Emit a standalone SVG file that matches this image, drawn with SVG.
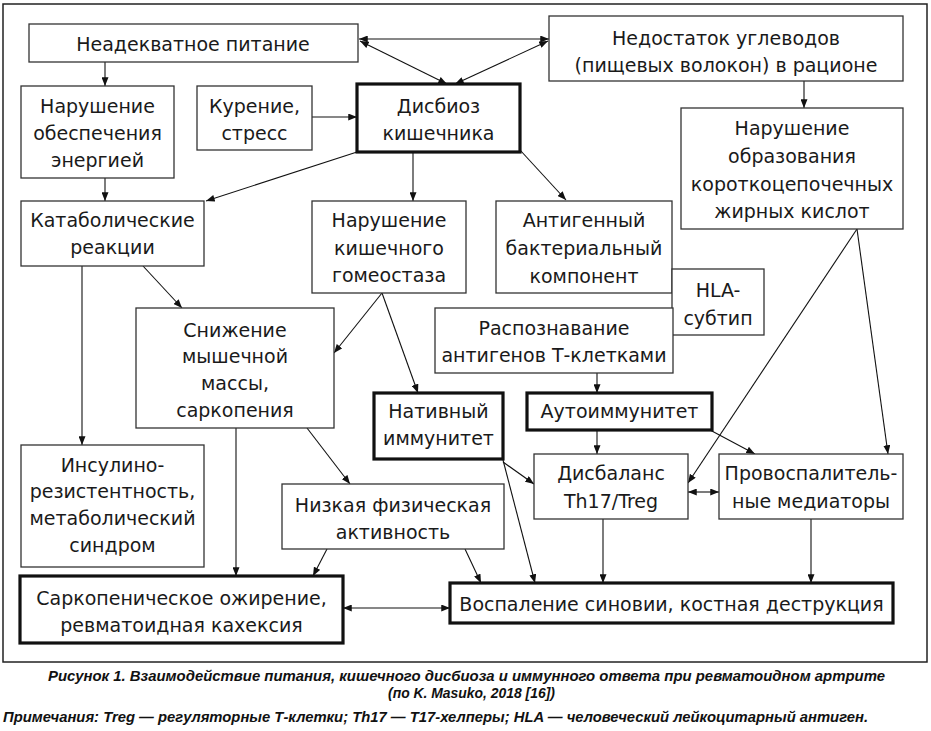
<svg xmlns="http://www.w3.org/2000/svg" width="931" height="731" viewBox="0 0 931 731">
<style>
.box{fill:#fff;stroke:#333;stroke-width:1.3}
.thick{fill:#fff;stroke:#111;stroke-width:3.2}
.t{font-family:"DejaVu Sans","Liberation Sans",Arial,sans-serif;font-size:19px;fill:#1a1a1a;text-anchor:middle}
.c{stroke:#111;stroke-width:1.1;fill:none;marker-end:url(#ah)}
.d{stroke:#111;stroke-width:1.1;fill:none;marker-end:url(#ah);marker-start:url(#ah)}
.cap{font-family:"Liberation Sans Narrow","Liberation Sans",Arial,sans-serif;font-size:15px;font-weight:bold;font-style:italic;fill:#111}
</style>
<defs>
<marker id="ah" viewBox="0 0 10 8" refX="10" refY="4" markerWidth="9" markerHeight="7" markerUnits="userSpaceOnUse" orient="auto-start-reverse">
<path d="M0,0 L10,4 L0,8 z" fill="#111"/>
</marker>
</defs>
<rect x="0" y="0" width="931" height="731" fill="#fff"/>
<rect x="3" y="4" width="924" height="658" fill="none" stroke="#222" stroke-width="1.5"/>

<g id="connectors">
<line class="d" x1="359" y1="39" x2="549" y2="39"/>
<line class="d" x1="360" y1="41" x2="447" y2="84"/>
<line class="d" x1="548" y1="41" x2="455" y2="84"/>
<line class="c" x1="105" y1="62" x2="105" y2="86"/>
<line class="c" x1="105" y1="178" x2="105" y2="201"/>
<line class="c" x1="312" y1="117" x2="357" y2="117"/>
<line class="c" x1="357" y1="152" x2="206" y2="201"/>
<line class="c" x1="413" y1="152" x2="413" y2="201"/>
<line class="c" x1="520" y1="150" x2="566" y2="200"/>
<line class="c" x1="804" y1="81" x2="804" y2="108"/>
<line class="c" x1="857" y1="229" x2="688" y2="483"/>
<line class="c" x1="857" y1="229" x2="888" y2="454"/>
<line class="c" x1="143" y1="266" x2="182" y2="308"/>
<line class="c" x1="82" y1="266" x2="82" y2="445"/>
<line class="c" x1="382" y1="293" x2="334" y2="353"/>
<line class="c" x1="382" y1="293" x2="418" y2="393"/>
<line class="c" x1="597" y1="373" x2="597" y2="393"/>
<line class="c" x1="597" y1="430" x2="597" y2="454"/>
<line class="c" x1="710" y1="430" x2="755" y2="454"/>
<line class="c" x1="503" y1="462" x2="534" y2="484"/>
<line class="c" x1="503" y1="460" x2="535" y2="583"/>
<line class="d" x1="688" y1="492" x2="719" y2="492"/>
<line class="c" x1="603" y1="519" x2="603" y2="583"/>
<line class="c" x1="811" y1="519" x2="811" y2="583"/>
<line class="c" x1="465" y1="549" x2="481" y2="583"/>
<line class="c" x1="327" y1="549" x2="313" y2="576"/>
<line class="c" x1="236" y1="428" x2="236" y2="576"/>
<line class="c" x1="307" y1="428" x2="350" y2="484"/>
<line class="d" x1="343" y1="608" x2="450" y2="608"/>
</g>

<g id="n1"><rect class="box" x="29" y="24" width="329" height="38"/><text class="t" x="193" y="51">Неадекватное питание</text></g>
<g id="n2"><rect class="box" x="549" y="16" width="354" height="65"/><text class="t" x="726" y="45">Недостаток углеводов</text><text class="t" x="726" y="72">(пищевых волокон) в рационе</text></g>
<g id="n3"><rect class="box" x="21" y="86" width="153" height="92"/><text class="t" x="97.5" y="113">Нарушение</text><text class="t" x="97.5" y="140">обеспечения</text><text class="t" x="97.5" y="167">энергией</text></g>
<g id="n4"><rect class="box" x="197" y="86" width="115" height="64"/><text class="t" x="254.5" y="113">Курение,</text><text class="t" x="254.5" y="140">стресс</text></g>
<g id="n5"><rect class="thick" x="357" y="84" width="163" height="68"/><text class="t" x="438.5" y="113">Дисбиоз</text><text class="t" x="438.5" y="140">кишечника</text></g>
<g id="n6"><rect class="box" x="681" y="108" width="222" height="121"/><text class="t" x="792" y="135">Нарушение</text><text class="t" x="792" y="163">образования</text><text class="t" x="792" y="191">короткоцепочечных</text><text class="t" x="792" y="218">жирных кислот</text></g>
<g id="n7"><rect class="box" x="21" y="201" width="183" height="65"/><text class="t" x="112.5" y="227">Катаболические</text><text class="t" x="112.5" y="254">реакции</text></g>
<g id="n8"><rect class="box" x="312" y="201" width="154" height="92"/><text class="t" x="389" y="227">Нарушение</text><text class="t" x="389" y="255">кишечного</text><text class="t" x="389" y="282">гомеостаза</text></g>
<g id="n9"><rect class="box" x="496" y="201" width="176" height="92"/><text class="t" x="584" y="227">Антигенный</text><text class="t" x="584" y="255">бактериальный</text><text class="t" x="584" y="283">компонент</text></g>
<g id="n10"><rect class="box" x="672" y="269" width="92" height="66"/><text class="t" x="718" y="297">HLA-</text><text class="t" x="718" y="325">субтип</text></g>
<g id="n11"><rect class="box" x="435" y="308" width="238" height="65"/><text class="t" x="554" y="335">Распознавание</text><text class="t" x="554" y="362">антигенов Т-клетками</text></g>
<g id="n12"><rect class="box" x="136" y="308" width="198" height="120"/><text class="t" x="235" y="337">Снижение</text><text class="t" x="235" y="363">мышечной</text><text class="t" x="235" y="390">массы,</text><text class="t" x="235" y="417">саркопения</text></g>
<g id="n13"><rect class="thick" x="374" y="393" width="129" height="66"/><text class="t" x="438.5" y="418">Нативный</text><text class="t" x="438.5" y="445">иммунитет</text></g>
<g id="n14"><rect class="thick" x="527" y="393" width="185" height="37"/><text class="t" x="619.5" y="418">Аутоиммунитет</text></g>
<g id="n15"><rect class="box" x="534" y="454" width="154" height="65"/><text class="t" x="611" y="480">Дисбаланс</text><text class="t" x="611" y="508">Th17/Treg</text></g>
<g id="n16"><rect class="box" x="719" y="454" width="184" height="65"/><text class="t" x="811" y="480">Провоспалитель-</text><text class="t" x="811" y="508">ные медиаторы</text></g>
<g id="n17"><rect class="box" x="21" y="445" width="183" height="122"/><text class="t" x="112.5" y="472">Инсулино-</text><text class="t" x="112.5" y="498">резистентность,</text><text class="t" x="112.5" y="525">метаболический</text><text class="t" x="112.5" y="552">синдром</text></g>
<g id="n18"><rect class="box" x="282" y="484" width="222" height="65"/><text class="t" x="393" y="512">Низкая физическая</text><text class="t" x="393" y="539">активность</text></g>
<g id="n19"><rect class="thick" x="20" y="576" width="323" height="67"/><text class="t" x="181.5" y="605">Саркопеническое ожирение,</text><text class="t" x="181.5" y="632">ревматоидная кахексия</text></g>
<g id="n20"><rect class="thick" x="450" y="583" width="443" height="40"/><text class="t" x="671.5" y="611">Воспаление синовии, костная деструкция</text></g>

<g id="caption">
<text class="cap" x="48" y="681" textLength="837" lengthAdjust="spacingAndGlyphs">Рисунок 1. Взаимодействие питания, кишечного дисбиоза и иммунного ответа при ревматоидном артрите</text>
<text class="cap" x="388" y="698" textLength="167" lengthAdjust="spacingAndGlyphs">(по K. Masuko, 2018 [16])</text>
<text class="cap" x="3" y="722" textLength="865" lengthAdjust="spacingAndGlyphs">Примечания: Treg — регуляторные Т-клетки; Th17 — Т17-хелперы; HLA — человеческий лейкоцитарный антиген.</text>
</g>
</svg>
